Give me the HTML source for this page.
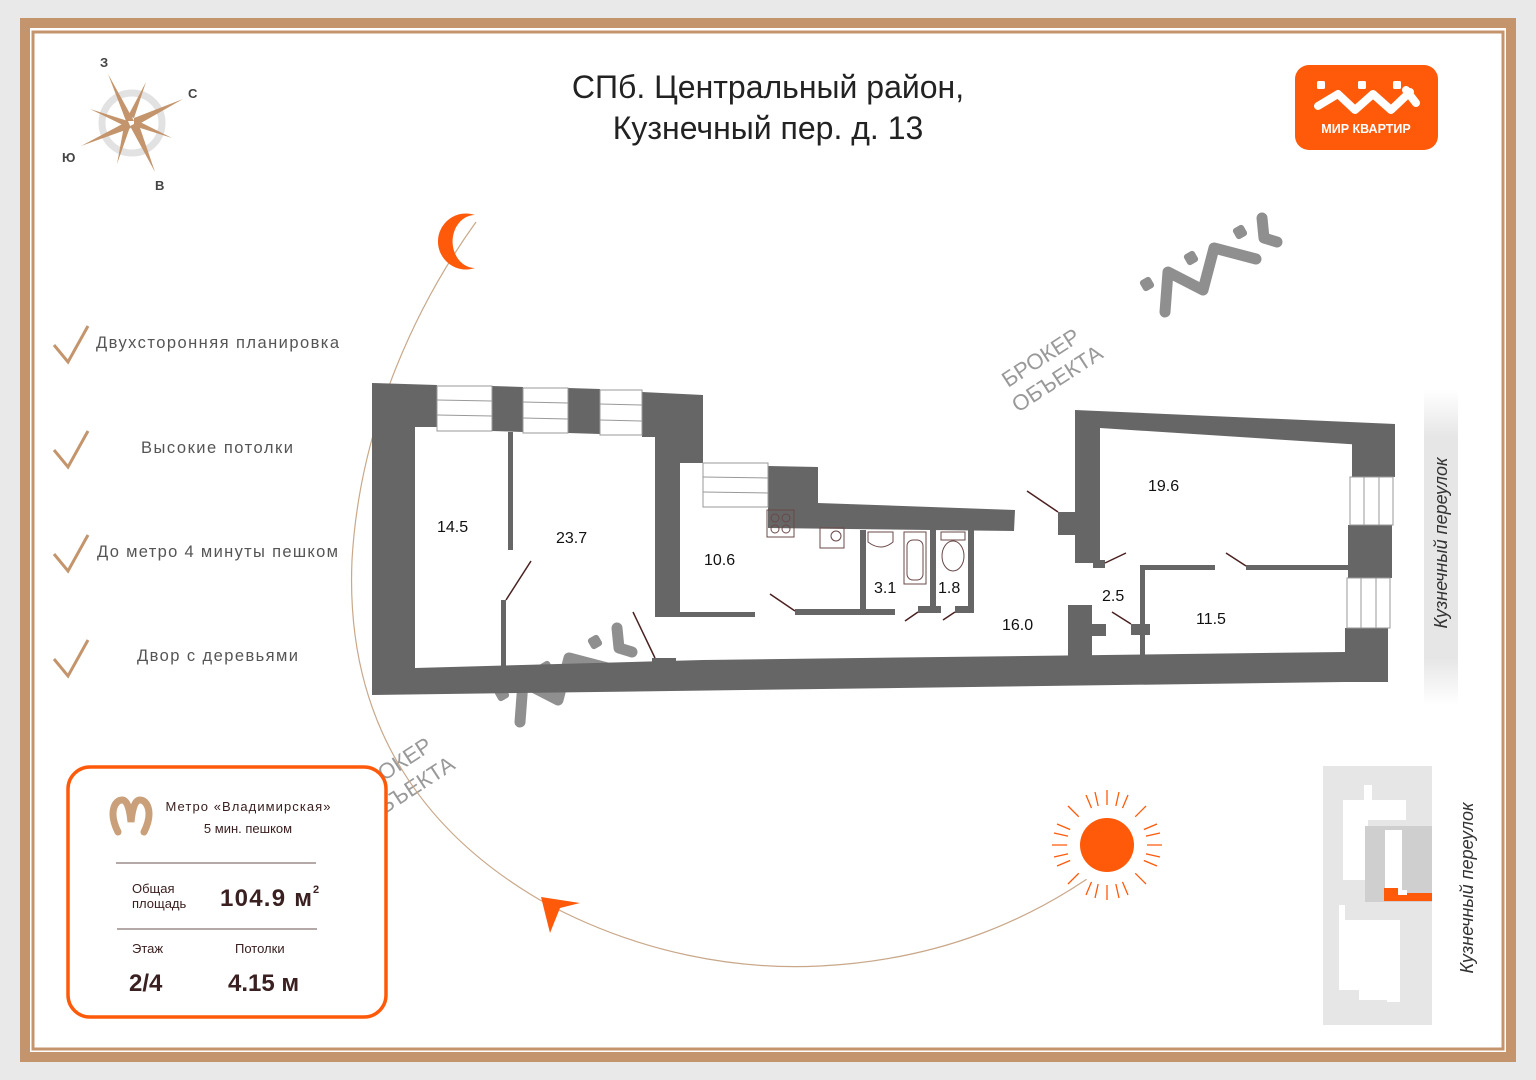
<!DOCTYPE html>
<html><head><meta charset="utf-8"><style>
html,body{margin:0;padding:0;width:1536px;height:1080px;overflow:hidden;background:#e9e9e9;}
svg{display:block}
text{font-family:"Liberation Sans",sans-serif;}
</style></head><body>
<svg width="1536" height="1080" viewBox="0 0 1536 1080" xmlns="http://www.w3.org/2000/svg">
<rect x="0" y="0" width="1536" height="1080" fill="#e9e9e9"/>
<rect x="20" y="18" width="1496" height="1044" fill="#c4956c"/>
<rect x="30" y="28" width="1476" height="1024" fill="#fff"/>
<rect x="33" y="32" width="1470" height="1017" fill="none" stroke="#c4956c" stroke-width="3"/>
<rect x="37" y="36" width="1462" height="1009" fill="#fff"/>

<!-- compass -->
<circle cx="132" cy="123" r="30" fill="none" stroke="#e2e2e2" stroke-width="7"/>
<g fill="#c4956c">
<polygon points="108,74 126,121 134,121"/>
<polygon points="183,99 134,118 134,127"/>
<polygon points="155,172 130,126 138,122"/>
<polygon points="81,146 128,121 131,128"/>
<polygon points="146,82 134,118 128,116"/>
<polygon points="172,138 134,126 136,120"/>
<polygon points="117,164 130,127 124,126"/>
<polygon points="90,109 128,121 127,127"/>
</g>
<g font-size="13" font-weight="bold" fill="#444">
<text x="100" y="67">З</text><text x="188" y="98">С</text><text x="62" y="162">Ю</text><text x="155" y="190">В</text>
</g>

<!-- title -->
<text x="768" y="98" text-anchor="middle" font-size="32" fill="#222">СПб. Центральный район,</text>
<text x="768" y="139" text-anchor="middle" font-size="32" fill="#222">Кузнечный пер. д. 13</text>

<!-- logo -->
<rect x="1295" y="65" width="143" height="85" rx="14" fill="#ff5a0a"/>
<g fill="#fff">
<rect x="1317" y="81" width="8" height="8" rx="1.5"/><rect x="1358" y="81" width="8" height="8" rx="1.5"/><rect x="1393" y="81" width="8" height="8" rx="1.5"/>
</g>
<g fill="none" stroke="#fff" stroke-width="8" stroke-linecap="round" stroke-linejoin="round">
<polyline points="1318,106 1338,94 1355,110 1373,94 1391,110 1410,92"/>
<polyline points="1406,90 1416,103"/>
</g>
<text x="1366" y="133" text-anchor="middle" font-size="12.5" font-weight="bold" fill="#fff">МИР КВАРТИР</text>

<!-- watermark logos -->
<g id="wm" fill="#8f8f8f">
<g fill="none" stroke="#8f8f8f" stroke-width="11" stroke-linecap="round" stroke-linejoin="round">
<polyline points="1165,312 1168,272 1203,290 1214,248 1256,259"/>
<polyline points="1262,218 1264,238 1277,242"/>
</g>
<rect x="1141" y="278" width="12" height="12" rx="3" transform="rotate(-30 1147 284)"/>
<rect x="1185" y="252" width="12" height="12" rx="3" transform="rotate(-30 1191 258)"/>
<rect x="1234" y="226" width="12" height="12" rx="3" transform="rotate(-30 1240 232)"/>
</g>
<use href="#wm" transform="translate(-645,410)"/>
<text x="0" y="0" font-size="22" fill="#999" transform="translate(1008,388) rotate(-33)">БРОКЕР</text>
<text x="0" y="0" font-size="22" fill="#999" transform="translate(1018,413) rotate(-33)">ОБЪЕКТА</text>
<text x="0" y="0" font-size="22" fill="#999" transform="translate(360,797) rotate(-33)">БРОКЕР</text>
<text x="0" y="0" font-size="22" fill="#999" transform="translate(370,824) rotate(-33)">ОБЪЕКТА</text>

<!-- arc -->
<path d="M476,222 C420,300 360,420 352,560 C345,720 420,830 540,900 C640,955 740,970 820,966 C940,960 1030,920 1100,870" fill="none" stroke="#c9a88a" stroke-width="1.2"/>
<path d="M475,215 A28,28 0 1,0 475,268 A22,26 0 1,1 475,215 Z" fill="#ff5a0a"/>
<polygon points="541,897 580,903 560,908 550,933" fill="#ff5a0a"/>
<g stroke="#ff5a0a" stroke-width="1.3">
<line x1="1107" y1="790" x2="1107" y2="900"/><line x1="1052" y1="845" x2="1162" y2="845"/>
<line x1="1068" y1="806" x2="1146" y2="884"/><line x1="1146" y1="806" x2="1068" y2="884"/>
<line x1="1086" y1="795" x2="1128" y2="895"/><line x1="1128" y1="795" x2="1086" y2="895"/>
<line x1="1057" y1="824" x2="1157" y2="866"/><line x1="1157" y1="824" x2="1057" y2="866"/>
<line x1="1095" y1="792" x2="1119" y2="898"/><line x1="1119" y1="792" x2="1095" y2="898"/>
<line x1="1054" y1="833" x2="1160" y2="857"/><line x1="1160" y1="833" x2="1054" y2="857"/>
</g>
<circle cx="1107" cy="845" r="40" fill="#fff"/>
<circle cx="1107" cy="845" r="27" fill="#ff5a0a"/>

<!-- features -->
<g fill="none" stroke="#c4956c" stroke-width="3">
<polyline points="54,345 68,362 88,326"/><polyline points="54,450 68,467 88,431"/>
<polyline points="54,554 68,571 88,535"/><polyline points="54,659 68,676 88,640"/>
</g>
<g font-size="16.5" fill="#555">
<text x="96" y="348" textLength="243" lengthAdjust="spacing">Двухсторонняя планировка</text>
<text x="141" y="453" textLength="152" lengthAdjust="spacing">Высокие потолки</text>
<text x="97" y="557" textLength="241" lengthAdjust="spacing">До метро 4 минуты пешком</text>
<text x="137" y="661" textLength="161" lengthAdjust="spacing">Двор с деревьями</text>
</g>

<!-- floor plan -->
<g fill="#666">
<polygon points="372,383 437,385 437,427 415,427 415,668 703,660 1345,652 1345,682 372,695"/>
<polygon points="492,386 523,387 523,432 492,431"/>
<polygon points="568,388 600,389 600,434 568,433"/>
<polygon points="642,392 703,395 703,463 680,463 680,612 755,612 755,617 655,617 655,437 642,437"/>
<polygon points="768,466 818,467 818,503 1015,510 1014,531 768,528 768,507"/>
<polygon points="795,609 895,609 895,615 795,615"/>
<polygon points="860,530 866,530 866,612 860,612"/>
<polygon points="930,530 936,530 936,612 930,612"/>
<polygon points="968,530 974,530 974,612 968,612"/>
<polygon points="918,606 941,606 941,613 918,613"/>
<polygon points="955,606 974,606 974,613 955,613"/>
<polygon points="508,432 513,432 513,550 508,550"/>
<polygon points="501,600 506,600 506,670 501,670"/>
<polygon points="652,658 676,658 676,670 652,670"/>
<polygon points="1075,410 1395,424 1395,447 1100,428 1100,563 1075,563 1075,535 1058,535 1058,512 1075,512"/>
<polygon points="1352,440 1395,442 1395,477 1352,477"/>
<polygon points="1348,525 1392,525 1392,578 1348,578"/>
<polygon points="1345,628 1388,628 1388,682 1345,682"/>
<polygon points="1093,560 1105,560 1105,568 1093,568"/>
<polygon points="1140,565 1215,565 1215,570 1140,570"/>
<polygon points="1246,565 1350,565 1350,570 1246,570"/>
<polygon points="1140,565 1145,565 1145,660 1140,660"/>
<polygon points="1131,624 1150,624 1150,635 1131,635"/>
<polygon points="1068,605 1092,605 1092,624 1106,624 1106,636 1092,636 1092,660 1068,660"/>
</g>
<!-- windows -->
<g fill="#fff" stroke="#999" stroke-width="1">
<rect x="437" y="386" width="55" height="45"/><line x1="437" y1="400" x2="492" y2="401"/><line x1="437" y1="415" x2="492" y2="416"/>
<rect x="523" y="388" width="45" height="45"/><line x1="523" y1="402" x2="568" y2="403"/><line x1="523" y1="418" x2="568" y2="419"/>
<rect x="600" y="390" width="42" height="45"/><line x1="600" y1="404" x2="642" y2="405"/><line x1="600" y1="420" x2="642" y2="421"/>
<rect x="703" y="463" width="65" height="44"/><line x1="703" y1="477" x2="768" y2="478"/><line x1="703" y1="492" x2="768" y2="493"/>
<rect x="1350" y="477" width="43" height="48"/><line x1="1364" y1="477" x2="1364" y2="525"/><line x1="1379" y1="477" x2="1379" y2="525"/>
<rect x="1347" y="578" width="43" height="50"/><line x1="1361" y1="578" x2="1361" y2="628"/><line x1="1376" y1="578" x2="1376" y2="628"/>
</g>
<!-- doors -->
<g stroke="#4a2020" stroke-width="1.5">
<line x1="506" y1="600" x2="531" y2="561"/><line x1="655" y1="658" x2="633" y2="612"/>
<line x1="795" y1="611" x2="770" y2="594"/><line x1="918" y1="612" x2="905" y2="621"/>
<line x1="955" y1="612" x2="943" y2="620"/><line x1="1058" y1="512" x2="1027" y2="491"/>
<line x1="1105" y1="563" x2="1126" y2="553"/><line x1="1246" y1="566" x2="1226" y2="553"/>
<line x1="1131" y1="624" x2="1112" y2="612"/>
</g>
<!-- fixtures -->
<g fill="none" stroke="#6a4848" stroke-width="1">
<rect x="767" y="510" width="27" height="27"/><circle cx="775" cy="518" r="4"/><circle cx="786" cy="518" r="4"/><circle cx="775" cy="529" r="4"/><circle cx="786" cy="529" r="4"/>
<rect x="820" y="528" width="24" height="20"/><circle cx="836" cy="536" r="5"/>
<path d="M868,532 h25 v10 q-12,10 -25,0 z"/>
<rect x="904" y="532" width="22" height="52"/><rect x="907" y="540" width="16" height="40" rx="6"/>
<rect x="941" y="532" width="24" height="8"/><ellipse cx="953" cy="556" rx="11" ry="15"/>
</g>
<g font-size="16" fill="#111">
<text x="437" y="532">14.5</text><text x="556" y="543">23.7</text><text x="704" y="565">10.6</text>
<text x="874" y="593">3.1</text><text x="938" y="593">1.8</text><text x="1002" y="630">16.0</text>
<text x="1148" y="491">19.6</text><text x="1102" y="601">2.5</text><text x="1196" y="624">11.5</text>
</g>

<!-- street label -->
<defs><linearGradient id="g1" x1="0" y1="0" x2="0" y2="1"><stop offset="0" stop-color="#fff"/><stop offset="0.15" stop-color="#e6e6e6"/><stop offset="0.85" stop-color="#e6e6e6"/><stop offset="1" stop-color="#fff"/></linearGradient></defs>
<rect x="1424" y="390" width="34" height="315" fill="url(#g1)"/>
<text x="0" y="0" font-size="18" font-style="italic" fill="#333" text-anchor="middle" transform="translate(1447,543) rotate(-90)">Кузнечный переулок</text>

<!-- site plan -->
<rect x="1323" y="766" width="109" height="259" fill="#e6e6e6"/>
<g fill="#fff">
<polygon points="1343,800 1364,800 1364,785 1372,785 1372,800 1406,800 1406,820 1368,820 1368,880 1345,880 1345,880 1343,880"/>
<polygon points="1339,905 1345,905 1345,920 1400,920 1400,1002 1387,1002 1387,1000 1359,1000 1359,990 1339,990"/>
<rect x="1385" y="830" width="15" height="60"/>
</g>
<rect x="1365" y="826" width="67" height="76" fill="#cfcfcf"/>
<polygon points="1385,830 1402,830 1402,890 1407,890 1407,896 1385,896" fill="#fff"/>
<polygon points="1384,888 1398,888 1398,895 1407,895 1407,893 1432,893 1432,901 1384,901" fill="#ff5a0a"/>
<text x="0" y="0" font-size="18" font-style="italic" fill="#333" text-anchor="middle" transform="translate(1473,888) rotate(-90)">Кузнечный переулок</text>

<!-- info box -->
<rect x="68" y="767" width="318" height="250" rx="22" fill="#fff" stroke="#ff5a0a" stroke-width="3.5"/>
<path d="M118,832 C108,812 115,800 122,800 C128,800 130,812 131,822 C132,812 134,800 140,800 C147,800 154,812 144,832" fill="none" stroke="#c9a07a" stroke-width="7" stroke-linecap="round"/>
<text x="248" y="811" text-anchor="middle" font-size="13" fill="#3a2020" textLength="165" lengthAdjust="spacing">Метро «Владимирская»</text>
<text x="248" y="833" text-anchor="middle" font-size="13" fill="#3a2020">5 мин. пешком</text>
<line x1="116" y1="863" x2="316" y2="863" stroke="#6a5050" stroke-width="1"/>
<text x="132" y="893" font-size="13" fill="#3a2020">Общая</text>
<text x="132" y="908" font-size="13" fill="#3a2020">площадь</text>
<text x="220" y="906" font-size="24" font-weight="bold" fill="#3a2020" textLength="92" lengthAdjust="spacing">104.9 м</text>
<text x="313" y="893" font-size="11" font-weight="bold" fill="#3a2020">2</text>
<line x1="117" y1="929" x2="317" y2="929" stroke="#6a5050" stroke-width="1"/>
<text x="132" y="953" font-size="13" fill="#3a2020">Этаж</text>
<text x="235" y="953" font-size="13" fill="#3a2020">Потолки</text>
<text x="129" y="991" font-size="24" font-weight="bold" fill="#3a2020">2/4</text>
<text x="228" y="991" font-size="24" font-weight="bold" fill="#3a2020">4.15 м</text>
</svg>
</body></html>
